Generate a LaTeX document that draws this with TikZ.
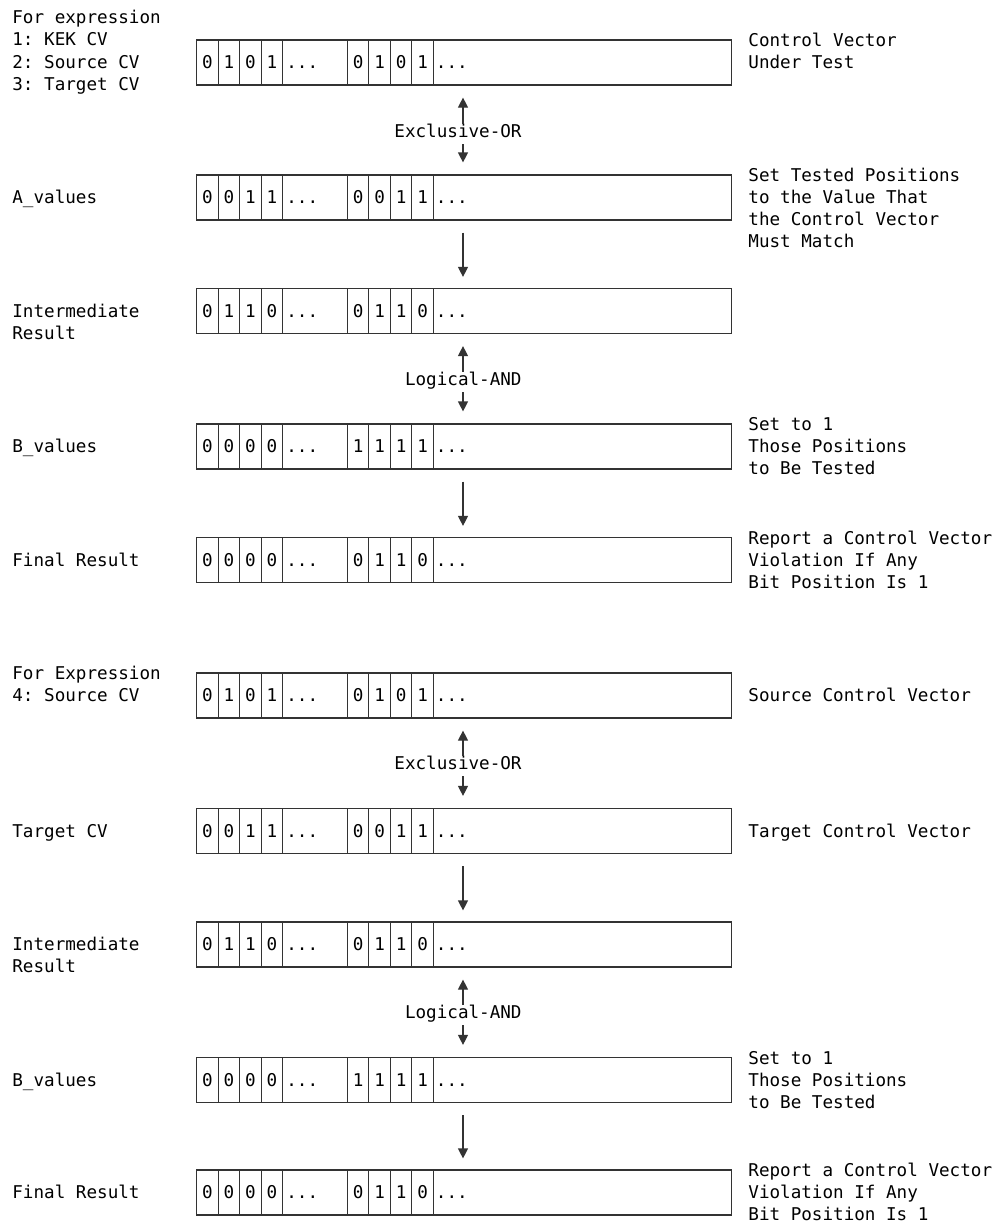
\documentclass[tikz,border=0pt]{standalone}
\usepackage{fontspec}
\setmonofont{DejaVu Sans Mono}
\usetikzlibrary{arrows.meta,positioning}

\tikzset{
  lbl/.style={font=\ttfamily\fontsize{8.8pt}{11pt}\selectfont, inner sep=0pt, text height=6.5pt, text depth=0.5pt, anchor=west},
  rowbox/.style={draw=black!80, line width=0.6pt, minimum width=267.5pt, minimum height=22.5pt, inner sep=0pt, anchor=west},
  cell/.style={lbl, draw=black!80, line width=0.6pt, minimum width=10.75pt, minimum height=22.5pt, anchor=west},
  flow/.style={draw=black!80, line width=0.6pt, -{Triangle[length=5pt,width=5pt]}},
}

% one register: name, y, first four bits, second four bits
\newcommand{\bitrow}[4]{%
  \node (#1) at (196,#2) [rowbox] {};
  \foreach \b [count=\i from 0] in {#3}
    \node (#1l\i) at (196+21.5*\i,#2) [cell] {\b};
  \node (#1d) at (286,#2) [lbl] {...};
  \foreach \b [count=\i from 0] in {#4}
    \node (#1r\i) at (346.7+21.5*\i,#2) [cell] {\b};
  \node (#1e) at (435.5,#2) [lbl] {...};
}

\begin{document}
\begin{tikzpicture}[x=0.5pt, y=-0.5pt]
\useasboundingbox (0,0) rectangle (1005,1226);

\coordinate (ax) at (463,0);

\bitrow{r1}{62.5}{0,1,0,1}{0,1,0,1}
\bitrow{r2}{197.5}{0,0,1,1}{0,0,1,1}
\bitrow{r3}{311}{0,1,1,0}{0,1,1,0}
\bitrow{r4}{446.5}{0,0,0,0}{1,1,1,1}
\bitrow{r5}{560}{0,0,0,0}{0,1,1,0}

\bitrow{r6}{695.5}{0,1,0,1}{0,1,0,1}
\bitrow{r7}{831}{0,0,1,1}{0,0,1,1}
\bitrow{r8}{944.5}{0,1,1,0}{0,1,1,0}
\bitrow{r9}{1080}{0,0,0,0}{1,1,1,1}
\bitrow{r10}{1192.5}{0,0,0,0}{0,1,1,0}

% left column
\node (forexp) at (12, 18) [lbl] {For expression};
\node (kek) at (12, 40) [lbl] {1: KEK CV};
\node (srccv) at (12, 62) [lbl] {2: Source CV};
\node (tgtcv) at (12, 84) [lbl] {3: Target CV};
\node (aval) at (12, 197.5) [lbl] {A\_values};
\node (inter1) at (12, 311) [lbl] {Intermediate};
\node (inter1a) at (12, 333) [lbl] {Result};
\node (bval1) at (12, 446.5) [lbl] {B\_values};
\node (final1) at (12, 560) [lbl] {Final Result};

\node (forexp2) at (12, 673.5) [lbl] {For Expression};
\node (srccv2) at (12, 695.5) [lbl] {4: Source CV};
\node (tgtcv2) at (12, 831) [lbl] {Target CV};
\node (inter2) at (12, 944.5) [lbl] {Intermediate};
\node (inter2a) at (12, 966.5) [lbl] {Result};
\node (bval2) at (12, 1080) [lbl] {B\_values};
\node (final2) at (12, 1192.5) [lbl] {Final Result};

% right column
\node (cvut) at (748, 40.5) [lbl] {Control Vector};
\node (cvuta) at (748, 62.5) [lbl] {Under Test};
\node (stp) at (748, 175.5) [lbl] {Set Tested Positions};
\node (stpa) at (748, 197.5) [lbl] {to the Value That};
\node (stpb) at (748, 219.5) [lbl] {the Control Vector};
\node (stpc) at (748, 241.5) [lbl] {Must Match};
\node (set1) at (748, 424.5) [lbl] {Set to 1};
\node (set1a) at (748, 446.5) [lbl] {Those Positions};
\node (set1b) at (748, 468.5) [lbl] {to Be Tested};
\node (rep1) at (748, 538) [lbl] {Report a Control Vector};
\node (rep1a) at (748, 560) [lbl] {Violation If Any};
\node (rep1b) at (748, 582) [lbl] {Bit Position Is 1};

\node (src) at (748, 695.5) [lbl] {Source Control Vector};
\node (tgt) at (748, 831) [lbl] {Target Control Vector};
\node (set2) at (748, 1058) [lbl] {Set to 1};
\node (set2a) at (748, 1080) [lbl] {Those Positions};
\node (set2b) at (748, 1102) [lbl] {to Be Tested};
\node (rep2) at (748, 1170.5) [lbl] {Report a Control Vector};
\node (rep2a) at (748, 1192.5) [lbl] {Violation If Any};
\node (rep2b) at (748, 1214.5) [lbl] {Bit Position Is 1};

% operations
\node (xor1) at (522, 131) [lbl, anchor=east] {Exclusive-OR};
\node (and1) at (522, 379) [lbl, anchor=east] {Logical-AND};
\node (xor2) at (522, 763) [lbl, anchor=east] {Exclusive-OR};
\node (and2) at (522, 1012) [lbl, anchor=east] {Logical-AND};

\draw[flow, shorten >=6pt] (xor1.north -| ax) -- (r1.south -| ax);
\draw[flow, shorten >=6pt, shorten <=3pt] (xor1.south -| ax) -- (r2.north -| ax);
\draw[flow, shorten <=6pt, shorten >=5.5pt] (r2.south -| ax) -- (r3.north -| ax);
\draw[flow, shorten >=6pt] (and1.north -| ax) -- (r3.south -| ax);
\draw[flow, shorten >=6pt, shorten <=3pt] (and1.south -| ax) -- (r4.north -| ax);
\draw[flow, shorten <=6pt, shorten >=5.5pt] (r4.south -| ax) -- (r5.north -| ax);

\draw[flow, shorten >=6pt] (xor2.north -| ax) -- (r6.south -| ax);
\draw[flow, shorten >=6pt, shorten <=3pt] (xor2.south -| ax) -- (r7.north -| ax);
\draw[flow, shorten <=6pt, shorten >=5.5pt] (r7.south -| ax) -- (r8.north -| ax);
\draw[flow, shorten >=6pt] (and2.north -| ax) -- (r8.south -| ax);
\draw[flow, shorten >=6pt, shorten <=3pt] (and2.south -| ax) -- (r9.north -| ax);
\draw[flow, shorten <=6pt, shorten >=5.5pt] (r9.south -| ax) -- (r10.north -| ax);
\end{tikzpicture}
\end{document}
